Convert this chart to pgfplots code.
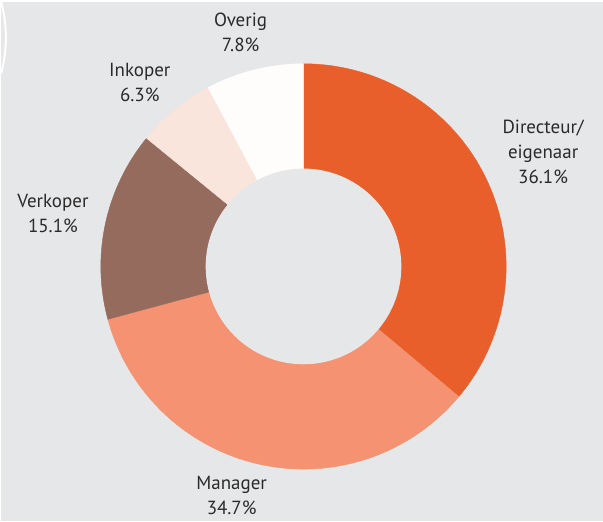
\documentclass[border=0pt]{standalone}
\usepackage{pgfplots}
\pgfplotsset{compat=1.18}
\usepackage{pgfplotstable}
\usepackage{fontspec}
\setmainfont{PT Sans}
\definecolor{bg}{HTML}{E6E7E9}
\definecolor{slice0}{HTML}{E95F2B}
\definecolor{slice1}{HTML}{F59271}
\definecolor{slice2}{HTML}{946B5D}
\definecolor{slice3}{HTML}{F9E5DC}
\definecolor{slice4}{HTML}{FFFDFB}
\definecolor{txt}{HTML}{2A2A2A}
\pgfplotstableread{
label value
Directeur 36.1
Manager 34.7
Verkoper 15.1
Inkoper 6.3
Overig 7.8
}\shares
\begin{document}
\begin{tikzpicture}
\begin{axis}[x=1pt,y=1pt, xmin=0,xmax=603,ymin=-520,ymax=0,
  hide axis, scale only axis, clip=false, set layers=standard]
\begin{pgfonlayer}{axis background}
\fill[bg] (axis cs:0,-520) rectangle (axis cs:603,0);
\end{pgfonlayer}
\def\cum{0}
\pgfplotsforeachungrouped \i in {0,...,4}{%
 \pgfplotstablegetelem{\i}{value}\of\shares
 \let\v\pgfplotsretval
 \pgfmathsetmacro\a{90-3.6*\cum}
 \pgfmathsetmacro\b{90-3.6*(\cum+\v)}
 \pgfmathsetmacro\cum{\cum+\v}
 \edef\temp{\noexpand\addplot[draw=slice\i, line width=0.4pt, fill=slice\i, domain=\b:\a, samples=90] ({303+203*cos(x)},{-265+203*sin(x)}) -- (axis cs:303,-265) -- cycle;}
 \temp
}
\begin{pgfonlayer}{axis foreground}
\fill[bg] (axis cs:303,-265) circle[radius=98pt];
\draw[white, line width=2pt] (axis cs:0,-72) arc[start angle=-15.2, end angle=15.2, radius=139pt];
\end{pgfonlayer}
\tikzset{lab/.style={align=center, font=\fontsize{19}{25}\selectfont, text=txt}}
\node[lab] at (axis cs:240,-31) {Overig\\7.8\%};
\node[lab] at (axis cs:139,-81) {Inkoper\\6.3\%};
\node[lab] at (axis cs:543,-150) {Directeur/\\eigenaar\\36.1\%};
\node[lab] at (axis cs:52,-212) {Verkoper\\15.1\%};
\node[lab] at (axis cs:231,-494) {Manager\\34.7\%};
\end{axis}
\end{tikzpicture}
\end{document}
